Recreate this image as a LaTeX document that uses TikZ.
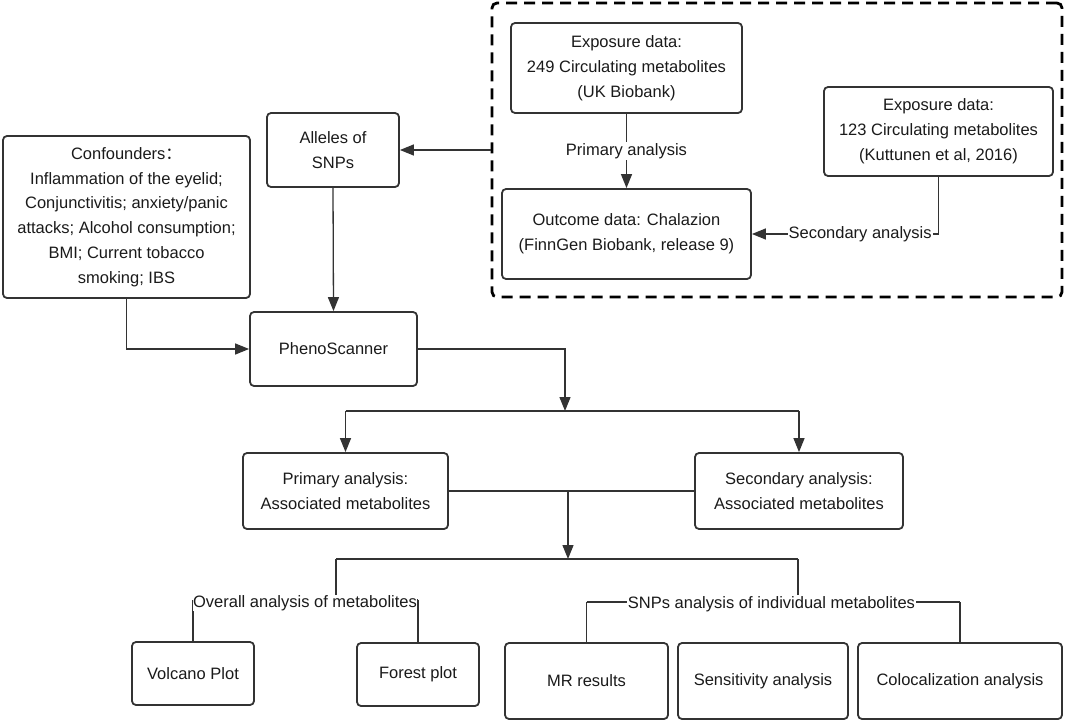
\documentclass[tikz,border=0pt]{standalone}
\usepackage{fontspec}
\setmainfont{Liberation Sans}
\newfontfamily\cjkfont{Noto Sans CJK SC}
\usetikzlibrary{arrows.meta}
\definecolor{ln}{HTML}{333333}
\definecolor{tx}{HTML}{1A1A1A}
\begin{document}
\begin{tikzpicture}[x=1pt,y=-1pt,
  every node/.style={text=tx,font=\fontsize{16.5pt}{24.8pt}\selectfont},
  box/.style={draw=ln,line width=1.8pt,rounded corners=4pt,align=center,inner sep=0pt},
  conn/.style={draw=ln,line width=1.3pt},
  arr/.style={conn,-{Triangle[length=14pt,width=11pt]}},
  lbl/.style={fill=white,inner sep=1pt}]
\useasboundingbox (0,0) rectangle (1065,722);
% dashed group
\node[draw=black,line width=2.8pt,dash pattern=on 11pt off 7pt,rounded corners=5pt,minimum width=570pt,minimum height=294pt,inner sep=0pt] (grp) at (777,150) {};
% boxes
\node[box,minimum width=231pt,minimum height=90pt] (exp1) at (626.5,68) {Exposure data:\\249 Circulating metabolites\\(UK Biobank)};
\node[box,minimum width=249pt,minimum height=90pt] (out) at (626.5,234) {Outcome data: Chalazion\\(FinnGen Biobank, release 9)};
\node[box,minimum width=229pt,minimum height=89pt] (exp2) at (938.5,131.5) {Exposure data:\\123 Circulating metabolites\\(Kuttunen et al, 2016)};
\node[box,minimum width=247pt,minimum height=162pt] (conf) at (126.5,217) {Confounders{\cjkfont ：}\\Inflammation of the eyelid;\\Conjunctivitis; anxiety/panic\\attacks; Alcohol consumption;\\BMI; Current tobacco\\smoking; IBS};
\node[box,minimum width=132pt,minimum height=74pt] (alle) at (333,150) {Alleles of\\SNPs};
\node[box,minimum width=167pt,minimum height=74pt] (pheno) at (333.5,349) {PhenoScanner};
\node[box,minimum width=205pt,minimum height=76pt] (prim) at (345.5,491) {Primary analysis:\\Associated metabolites};
\node[box,minimum width=208pt,minimum height=76pt] (sec) at (799,491) {Secondary analysis:\\Associated metabolites};
\node[box,minimum width=122pt,minimum height=63pt] (volc) at (193,673.5) {Volcano Plot};
\node[box,minimum width=122pt,minimum height=63pt] (forest) at (418,674.5) {Forest plot};
\node[box,minimum width=163pt,minimum height=76pt] (mr) at (586.5,681) {MR results};
\node[box,minimum width=170pt,minimum height=76pt] (sens) at (763,681) {Sensitivity analysis};
\node[box,minimum width=204pt,minimum height=76pt] (coloc) at (960,681) {Colocalization analysis};
% coordinates
\coordinate (s1) at (565,411);
\coordinate (m1) at (568,491);
\coordinate (s2) at (568,559);
\coordinate (s2l) at (336,559);
\coordinate (s2r) at (798,559);
\coordinate (ovl) at (193,600);
\coordinate (ovr) at (418,600);
\coordinate (snl) at (586.5,602);
\coordinate (snr) at (960,602);
% connectors in group
\draw[arr] (exp1.south) -- node[lbl] {Primary analysis} (out.north);
\draw[arr] (exp2.south) |- node[lbl,pos=0.71] {Secondary analysis} (out.east);
\draw[arr] (grp.west |- alle.east) -- (alle.east);
\draw[arr] (alle.south) -- (pheno.north);
\draw[arr] (conf.south) |- (pheno.west);
\draw[arr] (pheno.east) -| (s1);
\draw[conn] (prim.north |- s1) -- (sec.north |- s1);
\draw[arr] (prim.north |- s1) -- (prim.north);
\draw[arr] (sec.north |- s1) -- (sec.north);
\draw[conn] (prim.east) -- (sec.west);
\draw[arr] (m1) -- (s2);
\draw[conn] (s2l) -- (s2r);
% overall analysis
\draw[conn] (ovl) -- (ovr);
\draw[conn] (s2l) -- (s2l |- ovl);
\draw[conn] (ovl) -- (volc.north);
\draw[conn] (ovr) -- (ovr |- forest.north);
\node[lbl,inner sep=0pt] (ovlab) at (305,603) {Overall analysis of metabolites};
% SNPs analysis
\draw[conn] (snl) -- (snr);
\draw[conn] (s2r) -- (s2r |- snl);
\draw[conn] (snl) -- (mr.north);
\draw[conn] (snr) -- (coloc.north);
\node[lbl] (snlab) at (771.5,604) {SNPs analysis of individual metabolites};
\end{tikzpicture}
\end{document}
